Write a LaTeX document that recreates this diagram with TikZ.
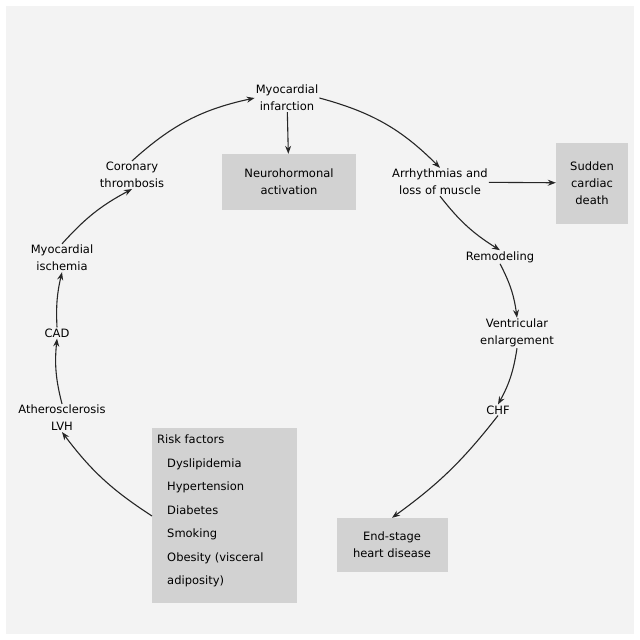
\documentclass[tikz,border=0pt]{standalone}
\usepackage{fontspec}
\setmainfont{DejaVu Sans}
\usetikzlibrary{positioning,arrows.meta}
\definecolor{bggray}{HTML}{F3F3F3}
\definecolor{boxgray}{HTML}{D2D2D2}
\tikzset{
	lbl/.style={align=center, font=\fontsize{11.5}{17}\selectfont, inner sep=1pt},
	box/.style={lbl, fill=boxgray},
	arr/.style={-{Stealth[length=8pt,width=6pt]}, line width=1.1pt, black!85}
}
\begin{document}
\begin{tikzpicture}[x=1pt,y=-1pt]
	\useasboundingbox (0,0) rectangle (640,640);
	\fill[bggray] (6,6) rectangle (634,634);

	\node[lbl] (mi) at (287,98) {Myocardial\\infarction};
	\node[box, minimum width=134pt, minimum height=56pt] (nh) at (289,182) {Neurohormonal\\activation};
	\node[lbl] (arr) at (440,182) {Arrhythmias and\\loss of muscle};
	\node[box, minimum width=72pt, minimum height=81pt] (scd) at (592,183) {Sudden\\cardiac\\death};
	\node[lbl] (rem) at (500,257) {Remodeling};
	\node[lbl] (ve) at (517,333) {Ventricular\\enlargement};
	\node[lbl] (chf) at (498,410) {CHF};
	\node[box, minimum width=111pt, minimum height=54pt] (esh) at (392,545) {End-stage\\heart disease};
	\fill[boxgray] (152,428) rectangle (297,603);
	\node[lbl, align=left, anchor=north west, font=\fontsize{11.5}{23.5}\selectfont] (rf) at (156,434) {Risk factors\\
		\hspace*{10pt}Dyslipidemia\\
		\hspace*{10pt}Hypertension\\
		\hspace*{10pt}Diabetes\\
		\hspace*{10pt}Smoking\\
		\hspace*{10pt}Obesity (visceral\\
		\hspace*{10pt}adiposity)};
	\coordinate (rfw) at (152,516);
	\node[lbl] (ath) at (62,418) {Atherosclerosis\\LVH};
	\node[lbl] (cad) at (57,333) {CAD};
	\node[lbl] (isc) at (62,258) {Myocardial\\ischemia};
	\node[lbl] (ct) at (132,175) {Coronary\\thrombosis};

	\draw[arr] (ct.north) to[bend left=15] (mi.west);
	\draw[arr] (mi.east) to[bend left=15] (arr.north);
	\draw[arr] (mi) -- (nh);
	\draw[arr] (arr) -- (scd);
	\draw[arr] (arr.south) to[bend right=10] (rem.north);
	\draw[arr] (rem.south) to[bend left=10] (ve.north);
	\draw[arr] (ve.south) to[bend left=10] (chf.north);
	\draw[arr] (chf.south) to[bend left=8] (esh.north);
	\draw[arr] (rfw) to[bend left=10] (ath.south);
	\draw[arr] (ath.north) to[bend left=10] (cad.south);
	\draw[arr] (cad.north) to[bend left=8] (isc.south);
	\draw[arr] (isc.north) to[bend left=10] (ct.south);
\end{tikzpicture}
\end{document}
